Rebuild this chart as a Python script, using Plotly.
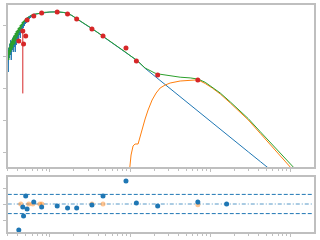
import numpy as np
import plotly.graph_objects as go

# ---------------- data ----------------
# photometry (wavelength in micron, flux)
phot_wave = [0.41, 0.46, 0.47, 0.50, 0.52, 0.63, 0.79, 1.235, 1.662, 2.159,
             3.35, 4.6, 8.9, 12.0, 22.1, 70.0]
phot_flux = [3.13e-13, 6.47e-13, 2.52e-13, 4.51e-13, 1.436e-12, 1.92e-12,
             2.39e-12, 2.56e-12, 2.22e-12, 1.545e-12, 7.48e-13, 4.51e-13,
             1.89e-13, 7.35e-14, 2.66e-14, 1.85e-14]
phot_err_lo = [0, 6.40e-13, 0, 0, 0, 0, 0, 0, 0, 0, 0, 0, 0, 0, 0, 0]

# model grid (log10 wavelength) shared by stellar and total model
model_loglam = [-0.525, -0.5188, -0.5125, -0.5063, -0.5, -0.4938, -0.4875, -0.4813,
                -0.475, -0.4688, -0.4625, -0.4563, -0.45, -0.4438, -0.4375, -0.4313,
                -0.425, -0.4188, -0.4125, -0.4063, -0.4, -0.3938, -0.3875, -0.3813,
                -0.375, -0.3688, -0.3625, -0.3563, -0.35, -0.3438, -0.3375, -0.3313,
                -0.325, -0.3188, -0.3125, -0.3063, -0.3, -0.2938, -0.2875, -0.2813,
                -0.275, -0.2688, -0.2625, -0.2563, -0.25, -0.2438, -0.2375, -0.2313,
                -0.225, -0.2188, -0.2125,
                -0.175, -0.125, -0.0625, 0.0, 0.0625, 0.125, 0.175, 0.225, 0.275,
                0.3375, 0.4375, 0.525, 0.625, 0.6625, 0.75, 0.875, 0.95, 1.0,
                1.0875, 1.1875, 1.25, 1.3125, 1.375, 1.5, 1.625, 1.75, 1.85,
                1.9375, 2.025, 2.125, 2.25, 2.375, 2.475, 2.625, 2.75, 2.875, 3.0375]

# stellar photosphere (log10 flux)
star_logflux = [-13.165, -13.480, -12.724, -13.039, -12.598, -12.945, -12.472, -13.102,
                -12.535, -12.787, -12.409, -12.850, -12.347, -12.693, -12.472, -12.850,
                -12.252, -12.630, -12.283, -12.472, -12.158, -12.535, -12.094, -12.315,
                -12.158, -12.409, -12.032, -12.252, -11.969, -12.158, -11.906, -12.094,
                -11.874, -12.032, -11.843, -11.969, -11.811, -11.937, -11.780, -11.874,
                -11.748, -11.843, -11.732, -11.811, -11.717, -11.780, -11.701, -11.748,
                -11.685, -11.717, -11.669,
                -11.654, -11.622, -11.600, -11.591, -11.584, -11.591, -11.606, -11.638,
                -11.701, -11.811, -11.969, -12.110, -12.283, -12.362, -12.520, -12.740,
                -12.866, -12.961, -13.118, -13.364, -13.493, -13.619, -13.748, -14.003,
                -14.258, -14.513, -14.718, -14.898, -15.074, -15.282, -15.537, -15.792,
                -15.997, -16.302, -16.558, -16.813, -17.143]

# total model (log10 flux)
total_logflux = [-12.976, -12.787, -13.102, -12.693, -12.945, -12.567, -12.850, -12.504,
                 -12.787, -12.441, -12.724, -12.378, -12.630, -12.315, -12.598, -12.252,
                 -12.504, -12.189, -12.409, -12.158, -12.347, -12.094, -12.252, -12.063,
                 -12.189, -12.000, -12.126, -11.969, -12.063, -11.906, -12.000, -11.874,
                 -11.937, -11.843, -11.890, -11.811, -11.843, -11.780, -11.811, -11.764,
                 -11.780, -11.748, -11.748, -11.732, -11.717, -11.710, -11.701, -11.694,
                 -11.685, -11.679, -11.669,
                 -11.654, -11.622, -11.600, -11.591, -11.584, -11.591, -11.606, -11.638,
                 -11.701, -11.811, -11.969, -12.110, -12.283, -12.362, -12.520, -12.740,
                 -12.866, -12.961, -13.118, -13.354, -13.436, -13.518, -13.550, -13.606,
                 -13.644, -13.666, -13.704, -13.805, -13.950, -14.142, -14.422, -14.718,
                 -14.951, -15.364, -15.698, -16.047, -16.479]

# dust component
dust_loglam = [0.9813, 1.0125, 1.0375, 1.0625, 1.1, 1.125, 1.15, 1.1875, 1.225, 1.275,
               1.325, 1.375, 1.4375, 1.5, 1.625, 1.75, 1.8125, 1.875, 1.9375, 2.025,
               2.125, 2.25, 2.375, 2.475, 2.625, 2.75, 2.875, 3.0, 3.075]
dust_logflux = [-16.882, -16.095, -15.811, -15.748, -15.748, -15.528, -15.244, -14.961,
                -14.677, -14.362, -14.142, -13.984, -13.890, -13.827, -13.764, -13.732,
                -13.732, -13.764, -13.843, -13.984, -14.173, -14.457, -14.756, -14.992,
                -15.417, -15.764, -16.126, -16.472, -16.693]

# residuals
resid_wave = [0.41, 0.46, 0.47, 0.50, 0.52, 0.63, 0.79, 1.235, 1.662, 2.159,
              3.35, 4.6, 8.9, 12.0, 22.1, 70.0, 160.0]
resid_val = [-3.25, -0.375, -1.5, 1.0, -0.625, 0.25, -0.375, -0.25, -0.5, -0.5,
             -0.125, 1.0, 2.875, 0.125, -0.25, 0.25, 0.0]
resid2_wave = [0.434, 0.546, 0.613, 0.75, 0.794, 3.35, 4.6, 70.0]
resid2_val = [0.0, 0.0, 0.0, 0.0, 0.0, 0.0, 0.0, -0.1]

sigma_levels = [1.2, -1.2]
zero_level = [0.0]

# ---------------- figure ----------------
C_BLUE, C_ORANGE, C_GREEN, C_RED = "#1f77b4", "#ff7f0e", "#2ca02c", "#d62728"
SPINE = "#bfbfbf"

mlam = 10 ** np.array(model_loglam)
fig = go.Figure()
fig.add_trace(go.Scatter(x=mlam, y=10 ** np.array(star_logflux), mode="lines",
                         line=dict(color=C_BLUE, width=1), xaxis="x", yaxis="y"))
fig.add_trace(go.Scatter(x=10 ** np.array(dust_loglam), y=10 ** np.array(dust_logflux),
                         mode="lines", line=dict(color=C_ORANGE, width=1),
                         xaxis="x", yaxis="y"))
fig.add_trace(go.Scatter(x=mlam, y=10 ** np.array(total_logflux), mode="lines",
                         line=dict(color=C_GREEN, width=1), xaxis="x", yaxis="y"))
fig.add_trace(go.Scatter(x=phot_wave, y=phot_flux, mode="markers",
                         marker=dict(color=C_RED, size=5),
                         error_y=dict(type="data", symmetric=False,
                                      array=[0] * len(phot_flux), arrayminus=phot_err_lo,
                                      color=C_RED, thickness=1, width=0),
                         xaxis="x", yaxis="y"))

fig.add_trace(go.Scatter(x=resid2_wave, y=resid2_val, mode="markers",
                         marker=dict(color="rgba(255,127,14,0.45)", size=5),
                         xaxis="x2", yaxis="y2"))
fig.add_trace(go.Scatter(x=resid_wave, y=resid_val, mode="markers",
                         marker=dict(color=C_BLUE, size=5),
                         xaxis="x2", yaxis="y2"))

shapes = []
for lv in sigma_levels:
    shapes.append(dict(type="line", xref="x2 domain", yref="y2", x0=0, x1=1, y0=lv, y1=lv,
                       line=dict(color=C_BLUE, width=1, dash="4px,2px"), layer="below"))
for lv in zero_level:
    shapes.append(dict(type="line", xref="x2 domain", yref="y2", x0=0, x1=1, y0=lv, y1=lv,
                       line=dict(color="rgba(31,119,180,0.75)", width=1,
                                 dash="4px,2px,1px,2px"),
                       layer="below"))

axis_common = dict(showline=True, mirror=True, linecolor=SPINE, linewidth=2,
                   ticks="outside", ticklen=3, tickcolor=SPINE, tickwidth=1,
                   showticklabels=False, showgrid=False, zeroline=False)
xdom = [7.75 / 320, 313.5 / 320]
xminor = dict(ticks="outside", ticklen=2, tickcolor=SPINE, dtick="D1", showgrid=False)

fig.update_layout(
    width=320, height=240, margin=dict(l=0, r=0, t=0, b=0),
    paper_bgcolor="white", plot_bgcolor="white", showlegend=False,
    shapes=shapes,
    xaxis=dict(type="log", range=[-0.525, 3.2875], domain=xdom, anchor="y",
               dtick=1, minor=xminor, **axis_common),
    yaxis=dict(type="log", range=[-16.472, -11.37], domain=[73 / 240, 235 / 240],
               anchor="x", dtick=1, **axis_common),
    xaxis2=dict(type="log", range=[-0.525, 3.2875], domain=xdom, anchor="y2",
                matches="x", dtick=1, minor=xminor, **axis_common),
    yaxis2=dict(range=[-3.5, 3.375], domain=[8 / 240, 63 / 240], anchor="x2",
                tickvals=[-2, 0, 2], **axis_common),
)

fig.write_html("out.html")
